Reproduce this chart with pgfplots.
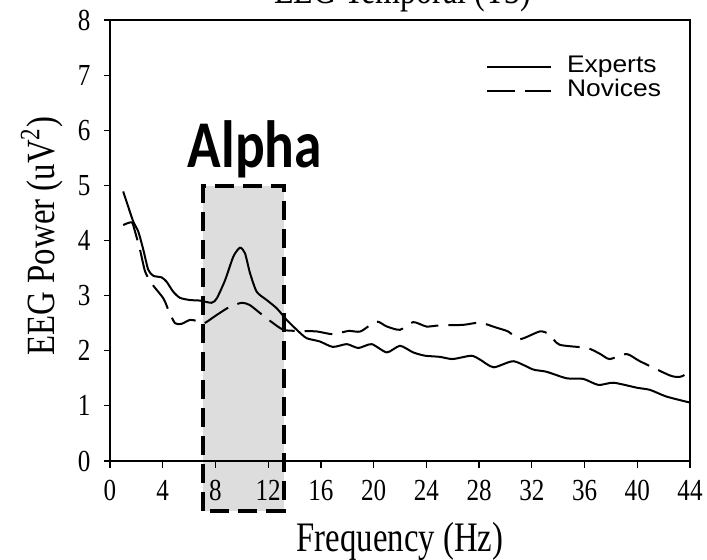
\documentclass[border=0pt]{standalone}
\usepackage{graphicx}
\usepackage{fontspec}
\setmainfont{Liberation Serif}
\newfontfamily\legfont{Liberation Sans}
\newfontfamily\alphafont{Carlito}
\usepackage{pgfplots}
\pgfplotsset{compat=1.18}
\usetikzlibrary{calc}
\newcommand{\tl}[1]{\scalebox{0.82}[1]{#1}}
\begin{document}
\begin{tikzpicture}
\begin{axis}[
  set layers,
  scale only axis, width=290pt, height=220.5pt,
  xmin=0, xmax=44, ymin=0, ymax=8,
  clip=false,
  axis line style={line width=1pt},
  tick style={line width=0.6pt, black},
  major tick length=3.25pt,
  tick align=outside,
  xtick pos=left, ytick pos=left,
  xtick={0,4,...,44},
  xticklabels={\tl{0},\tl{4},\tl{8},\tl{12},\tl{16},\tl{20},\tl{24},\tl{28},\tl{32},\tl{36},\tl{40},\tl{44}},
  ytick={0,1,...,8},
  yticklabels={\tl{0},\tl{1},\tl{2},\tl{3},\tl{4},\tl{5},\tl{6},\tl{7},\tl{8}},
  ticklabel style={font=\fontsize{15.3}{18}\selectfont},
  xticklabel style={yshift=-3pt},
  yticklabel style={xshift=-3pt},
  xlabel={\scalebox{0.78}[1]{Frequency (Hz)}},
  xlabel style={font=\fontsize{21}{24}\selectfont, at={($(axis description cs:0.5,0)+(0,-40pt)$)}, anchor=center},
  ylabel={\scalebox{0.82}[1]{EEG Power (uV\textsuperscript{2})}},
  ylabel style={font=\fontsize{20}{24}\selectfont, at={($(axis description cs:0,0.51)+(-34pt,0)$)}, anchor=center},
  legend cell align=left,
  legend style={draw=none, fill=none, at={(axis cs:28.53,7.36)}, anchor=north west,
    inner sep=0pt, outer sep=0pt, row sep=0.6pt,
    nodes={inner sep=0pt, text height=8.5pt, text depth=3pt, font=\legfont\fontsize{12}{14}\selectfont}},
  legend image code/.code={\draw[#1] (0pt,0pt) -- (32pt,0pt);},
]
\begin{pgfonlayer}{axis background}
\fill[fill={rgb,255:red,221;green,221;blue,221}] (axis cs:7.08,-0.90) rectangle (axis cs:13.22,4.98);
\end{pgfonlayer}

\addplot[black, line width=1pt, smooth, tension=0.4] coordinates {
(1.0,4.89)(1.4,4.6)(1.77,4.34)(2.15,4.16)(2.53,3.83)(2.9,3.47)(3.29,3.36)(3.92,3.33)(4.3,3.25)(4.8,3.07)(5.31,2.96)(6.07,2.92)(6.83,2.91)(7.71,2.87)(8.1,2.95)(8.73,3.28)(9.36,3.71)(9.86,3.87)(10.24,3.77)(10.62,3.41)(11.13,3.07)(11.89,2.92)(12.65,2.77)(13.4,2.56)(14.17,2.38)(14.9,2.23)(15.9,2.17)(16.9,2.07)(17.96,2.12)(18.84,2.05)(19.85,2.12)(21.0,1.97)(22.0,2.09)(23.0,1.97)(23.9,1.91)(25.0,1.89)(26.0,1.85)(27.4,1.91)(28.07,1.84)(29.1,1.70)(30.6,1.81)(32.1,1.66)(33.1,1.62)(34.65,1.50)(35.9,1.49)(37.05,1.38)(38.2,1.42)(39.96,1.33)(40.97,1.29)(42.2,1.17)(44,1.06)
};
\addlegendentry{\hspace{7.5pt}\scalebox{1.1}[1]{Experts}}

\addplot[black, line width=1pt, smooth, tension=0.4, dash pattern=on 14pt off 5pt] coordinates {
(1.0,4.28)(1.65,4.33)(1.9,4.16)(2.28,3.83)(2.66,3.44)(3.16,3.22)(4.05,2.95)(4.43,2.74)(4.93,2.50)(5.44,2.49)(6.07,2.56)(6.58,2.54)(7.08,2.49)(8.1,2.65)(9.1,2.80)(10.0,2.87)(10.6,2.83)(11.4,2.68)(12.1,2.55)(13.15,2.38)(14.4,2.36)(15.7,2.35)(16.9,2.30)(18.1,2.36)(19.0,2.35)(20.2,2.53)(21.0,2.44)(22.0,2.38)(23.0,2.52)(24.0,2.44)(25.0,2.46)(26.8,2.47)(28.07,2.51)(29.3,2.42)(30.2,2.35)(31.1,2.21)(32.6,2.35)(33.3,2.30)(34.1,2.11)(36.2,2.05)(37.2,1.94)(37.9,1.85)(39.2,1.94)(40.2,1.81)(42.5,1.55)(43.3,1.53)(44,1.62)
};
\addlegendentry{\hspace{7.5pt}\scalebox{1.1}[1]{Novices}}

\begin{pgfonlayer}{axis foreground}
\draw[black, line width=2pt, dash pattern=on 9.5pt off 4.5pt] (axis cs:7.08,-0.90) rectangle (axis cs:13.22,4.98);
\node[font=\fontsize{20}{24}\selectfont, anchor=base] at (axis cs:22.2,8.3) {\scalebox{0.8}[1]{EEG Temporal (T3)}};
\node[font=\alphafont\bfseries\fontsize{33.4}{36}\selectfont, anchor=base] at (axis cs:11.0,5.32) {\scalebox{0.83}[1]{Alpha}};
\end{pgfonlayer}
\end{axis}
\pgfresetboundingbox
\path[use as bounding box] ($(current axis.south west)+(-55pt,-49pt)$) rectangle ($(current axis.south west)+(298.5pt,230.5pt)$);
\end{tikzpicture}
\end{document}
